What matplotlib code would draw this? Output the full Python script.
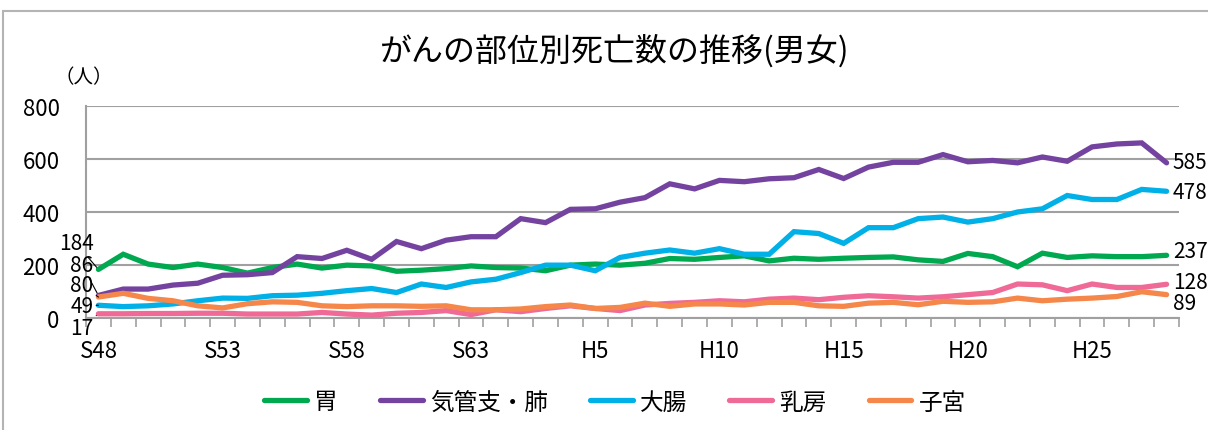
import matplotlib
matplotlib.use("Agg")
import matplotlib.pyplot as plt
from matplotlib.patches import Rectangle

plt.rcParams['font.family'] = ['Noto Sans CJK JP', 'DejaVu Sans']

# years S48 .. H28
years = ["S%d" % n for n in range(48, 64)] + ["H%d" % n for n in range(1, 29)]
tick_years = ["S48", "S53", "S58", "S63", "H5", "H10", "H15", "H20", "H25"]

stomach = [184, 241, 204, 191, 204, 191, 170, 191, 204, 189, 200, 197, 177, 181, 187,
           197, 191, 189, 179, 200, 204, 200, 207, 225, 222, 229, 235, 216, 226, 222,
           226, 229, 231, 220, 214, 244, 232, 194, 245, 229, 235, 232, 232, 237]
lung = [86, 110, 110, 125, 132, 162, 164, 172, 232, 225, 256, 222, 289, 262, 294,
        307, 307, 375, 360, 410, 412, 437, 454, 506, 487, 519, 514, 525, 529, 560,
        526, 569, 587, 587, 616, 589, 594, 585, 607, 591, 645, 656, 660, 585]
colon = [49, 44, 47, 54, 66, 76, 75, 85, 87, 94, 104, 112, 97, 129, 116,
         137, 147, 172, 200, 200, 179, 229, 245, 257, 245, 262, 241, 241, 326, 319,
         282, 341, 341, 375, 381, 362, 375, 400, 412, 462, 447, 447, 485, 478]
breast = [17, 17, 18, 18, 19, 19, 16, 16, 16, 22, 16, 12, 19, 22, 29,
          14, 32, 25, 37, 47, 37, 29, 50, 56, 60, 66, 62, 72, 76, 70,
          79, 85, 81, 76, 81, 89, 97, 129, 126, 104, 129, 116, 116, 128]
uterus = [80, 94, 75, 66, 47, 39, 55, 62, 60, 47, 44, 47, 47, 45, 47,
          32, 32, 35, 44, 50, 37, 41, 57, 45, 54, 54, 50, 60, 60, 47,
          45, 57, 60, 51, 64, 60, 62, 76, 66, 72, 76, 82, 100, 89]

names = ["胃", "気管支・肺", "大腸", "乳房", "子宮"]
series = [stomach, lung, colon, breast, uterus]
colors = ["#00A84F", "#7443A0", "#00B0E6", "#EF6A96", "#F6874A"]

# y value where the end labels sit (same order as series)
left_label_y = [282, 202, 46, -36, 124]
right_label_y = [253, 589, 476, 137, 58]

fig = plt.figure(figsize=(12.08, 4.31), dpi=100)
ax = fig.add_axes([86 / 1208, 1 - 319.3 / 431, (1179 - 86) / 1208, (319.3 - 106.7) / 431])

# chart area border
fig.patches.append(Rectangle((3 / 1208, -0.1), 1.2, 1 - 12 / 431 + 0.1, transform=fig.transFigure,
                             fill=False, edgecolor="#B4B4B4", linewidth=1.5))

x = list(range(len(years)))
lines = []
for name, vals, c in zip(names, series, colors):
    ln, = ax.plot(x, vals, color=c, linewidth=3.8, solid_capstyle='round',
                  solid_joinstyle='miter', label=name, clip_on=False, zorder=3)
    lines.append(ln)

# end labels
for vals, ly in zip(series, left_label_y):
    ax.annotate(str(vals[0]), xy=(0, vals[0]), xytext=(-0.2, ly), ha='right', va='center',
                fontsize=15, annotation_clip=False,
                arrowprops=dict(arrowstyle='-', color='black', lw=0.8, shrinkA=0, shrinkB=2))
for vals, ly in zip(series, right_label_y):
    ax.text(len(vals) - 1 + 0.25, ly, str(vals[-1]), ha='left', va='center', fontsize=15,
            clip_on=False)

ax.set_xlim(-0.5, len(years) - 0.5)
ax.set_ylim(0, 800)
ax.set_yticks([0, 200, 400, 600, 800])
ax.tick_params(axis='y', length=0, pad=19, labelsize=16)
ax.grid(axis='y', color='#A0A0A0', linewidth=1.5)
ax.set_axisbelow(True)

ax.set_xticks([i - 0.5 for i in range(len(years) + 1)])
ax.set_xticklabels([])
ax.tick_params(axis='x', which='major', direction='out', length=6.5, width=1.2, color='#A0A0A0')
ax.set_xticks([years.index(t) for t in tick_years], minor=True)
ax.set_xticklabels(tick_years, minor=True)
ax.tick_params(axis='x', which='minor', length=0, pad=15, labelsize=16)

for s in ['top', 'right']:
    ax.spines[s].set_visible(False)
for s in ['left', 'bottom']:
    ax.spines[s].set_color('#A0A0A0')
    ax.spines[s].set_linewidth(1.5)

fig.text(615 / 1208, 1 - 51 / 431, "がんの部位別死亡数の推移(男女)", ha='center', va='center', fontsize=23)
fig.text(84 / 1208, 1 - 78 / 431, "（人）", ha='center', va='center', fontsize=14)

fig.legend(handles=lines, loc='center', bbox_to_anchor=(615 / 1208, 1 - 403 / 431), ncol=5,
           frameon=False, fontsize=17, handlelength=1.8, handletextpad=0.3, columnspacing=1.8)

fig.savefig("out.png", dpi=100)
